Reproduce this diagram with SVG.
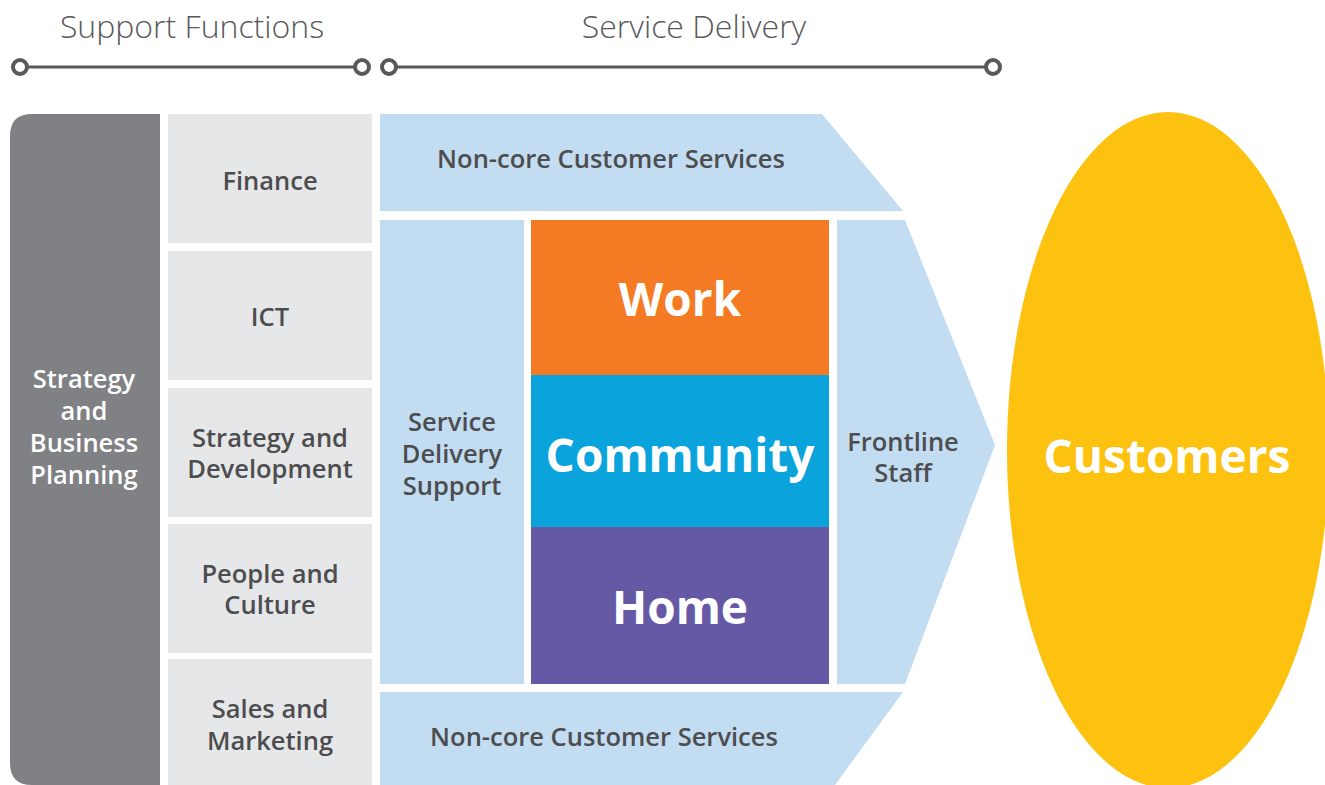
<svg xmlns="http://www.w3.org/2000/svg" width="1325" height="785" viewBox="0 0 1325 785">
  <style>
    .hdr { font-family: "Open Sans", "Liberation Sans", sans-serif; font-weight: 300; font-size: 32px; fill: #58595b; text-anchor: middle; }
    .rule { stroke: #58595b; stroke-width: 3; fill: none; }
    .dot { stroke: #58595b; stroke-width: 4; fill: #ffffff; }
    .lbl { font-family: "Open Sans", "Liberation Sans", sans-serif; font-weight: 600; font-size: 25.5px; fill: #4d4d4f; text-anchor: middle; dominant-baseline: central; }
    .lbl-w { fill: #ffffff; }
    .big { font-family: "Open Sans", "Liberation Sans", sans-serif; font-weight: 700; fill: #ffffff; text-anchor: middle; dominant-baseline: central; }
    .support { fill: #e6e7e8; }
    .svc { fill: #c2dcf2; }
  </style>

  <!-- section headings with rules -->
  <g id="heading-support">
    <text class="hdr" x="192" y="38">Support Functions</text>
    <line class="rule" x1="20" y1="67" x2="362" y2="67"/>
    <circle class="dot" cx="20" cy="67" r="7"/>
    <circle class="dot" cx="362" cy="67" r="7"/>
  </g>
  <g id="heading-delivery">
    <text class="hdr" x="694" y="38">Service Delivery</text>
    <line class="rule" x1="389" y1="67" x2="993" y2="67"/>
    <circle class="dot" cx="389" cy="67" r="7"/>
    <circle class="dot" cx="993" cy="67" r="7"/>
  </g>

  <!-- strategy column -->
  <g id="strategy-planning">
    <path d="M160 114 H32 Q10 114 10 136 V763 Q10 785 32 785 H160 Z" fill="#808184"/>
    <text class="lbl lbl-w" x="84" y="378">Strategy</text>
    <text class="lbl lbl-w" x="84" y="410">and</text>
    <text class="lbl lbl-w" x="84" y="442">Business</text>
    <text class="lbl lbl-w" x="84" y="474">Planning</text>
  </g>

  <!-- support function boxes -->
  <g id="finance">
    <rect class="support" x="168" y="114" width="204" height="129"/>
    <text class="lbl" x="270" y="180">Finance</text>
  </g>
  <g id="ict">
    <rect class="support" x="168" y="251" width="204" height="129"/>
    <text class="lbl" x="270" y="316">ICT</text>
  </g>
  <g id="strategy-development">
    <rect class="support" x="168" y="388" width="204" height="129"/>
    <text class="lbl" x="270" y="437">Strategy and</text>
    <text class="lbl" x="270" y="468">Development</text>
  </g>
  <g id="people-culture">
    <rect class="support" x="168" y="524" width="204" height="129"/>
    <text class="lbl" x="270" y="573">People and</text>
    <text class="lbl" x="270" y="604">Culture</text>
  </g>
  <g id="sales-marketing">
    <rect class="support" x="168" y="659" width="204" height="126"/>
    <text class="lbl" x="270" y="708">Sales and</text>
    <text class="lbl" x="270" y="740">Marketing</text>
  </g>

  <!-- service delivery blocks -->
  <g id="noncore-top">
    <polygon class="svc" points="380,114 822,114 903,211 380,211"/>
    <text class="lbl" x="611" y="158">Non-core Customer Services</text>
  </g>
  <g id="delivery-support">
    <rect class="svc" x="380" y="220" width="144" height="464"/>
    <text class="lbl" x="452" y="421">Service</text>
    <text class="lbl" x="452" y="453">Delivery</text>
    <text class="lbl" x="452" y="485">Support</text>
  </g>
  <g id="work">
    <rect x="531" y="220" width="298" height="156" fill="#f47a23"/>
    <text class="big" x="680" y="298" font-size="46">Work</text>
  </g>
  <g id="community">
    <rect x="531" y="375" width="298" height="153" fill="#0ba3dc"/>
    <text class="big" x="680" y="454" font-size="46">Community</text>
  </g>
  <g id="home">
    <rect x="531" y="527" width="298" height="157" fill="#6559a6"/>
    <text class="big" x="680" y="606" font-size="46">Home</text>
  </g>
  <g id="frontline">
    <polygon class="svc" points="837,220 905,220 995,445 905,684 837,684"/>
    <text class="lbl" x="903" y="441">Frontline</text>
    <text class="lbl" x="903" y="472">Staff</text>
  </g>
  <g id="noncore-bottom">
    <polygon class="svc" points="380,692 903,692 835,785 380,785"/>
    <text class="lbl" x="604" y="736">Non-core Customer Services</text>
  </g>

  <!-- customers -->
  <g id="customers">
    <ellipse cx="1168" cy="450" rx="161" ry="338" fill="#fdc20f"/>
    <text class="big" x="1167" y="455" font-size="46">Customers</text>
  </g>

  <g id="connectors"/>
</svg>
